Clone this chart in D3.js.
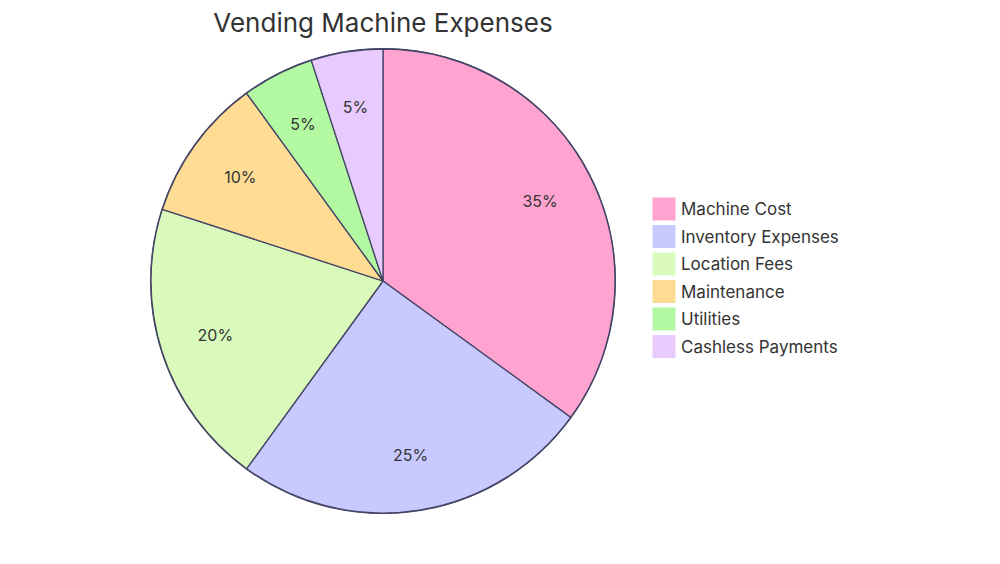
<!DOCTYPE html>
<html><head><meta charset="utf-8">
<script src="https://cdn.jsdelivr.net/npm/d3@7"></script>
<style>body{margin:0;background:#fff}text{font-family:Inter,"Open Sans",sans-serif}</style>
</head><body><svg id="c" width="1000" height="564"></svg>
<script>
const labels = ["Machine Cost","Inventory Expenses","Location Fees","Maintenance","Utilities","Cashless Payments"];
const values = [35,25,20,10,5,5];
const colors = ["#ffa3d0","#c8caff","#dafabb","#fedc93","#b3f9a1","#e8cbfe"];

const svg = d3.select("#c");
const cx = 383, cy = 281, r = 232;
const data = labels.map((l,i)=>({label:l,value:values[i],color:colors[i]}));
const pie = d3.pie().value(d=>d.value).sort(null);
const arc = d3.arc().innerRadius(0).outerRadius(r);
const labelArc = d3.arc().innerRadius(r*0.76).outerRadius(r*0.76);
const g = svg.append("g").attr("transform",`translate(${cx},${cy})`);
const arcs = pie(data);
g.append("circle").attr("r",r).attr("fill","none").attr("stroke","#444466").attr("stroke-width",2);
g.selectAll("path").data(arcs).join("path")
  .attr("d",arc).attr("fill",d=>d.data.color)
  .attr("stroke","#444466").attr("stroke-width",1.3);
g.selectAll("text.l").data(arcs).join("text")
  .attr("transform",d=>`translate(${labelArc.centroid(d)})`)
  .attr("text-anchor","middle").attr("dominant-baseline","central")
  .attr("font-size",16).attr("fill","#333")
  .text(d=>d.data.value+"%");
svg.append("text").attr("x",cx).attr("y",22).attr("text-anchor","middle")
  .attr("dominant-baseline","central").attr("font-size",26).attr("fill","#333")
  .text("Vending Machine Expenses");
const lg = svg.append("g").attr("transform","translate(653,198)");
const item = lg.selectAll("g").data(data).join("g").attr("transform",(d,i)=>`translate(0,${i*27.5})`);
item.append("rect").attr("width",22).attr("height",22).attr("fill",d=>d.color).attr("stroke",d=>d.color);
item.append("text").attr("x",28).attr("y",11).attr("dominant-baseline","central")
  .attr("font-size",17).attr("fill","#333").text(d=>d.label);
</script></body></html>
